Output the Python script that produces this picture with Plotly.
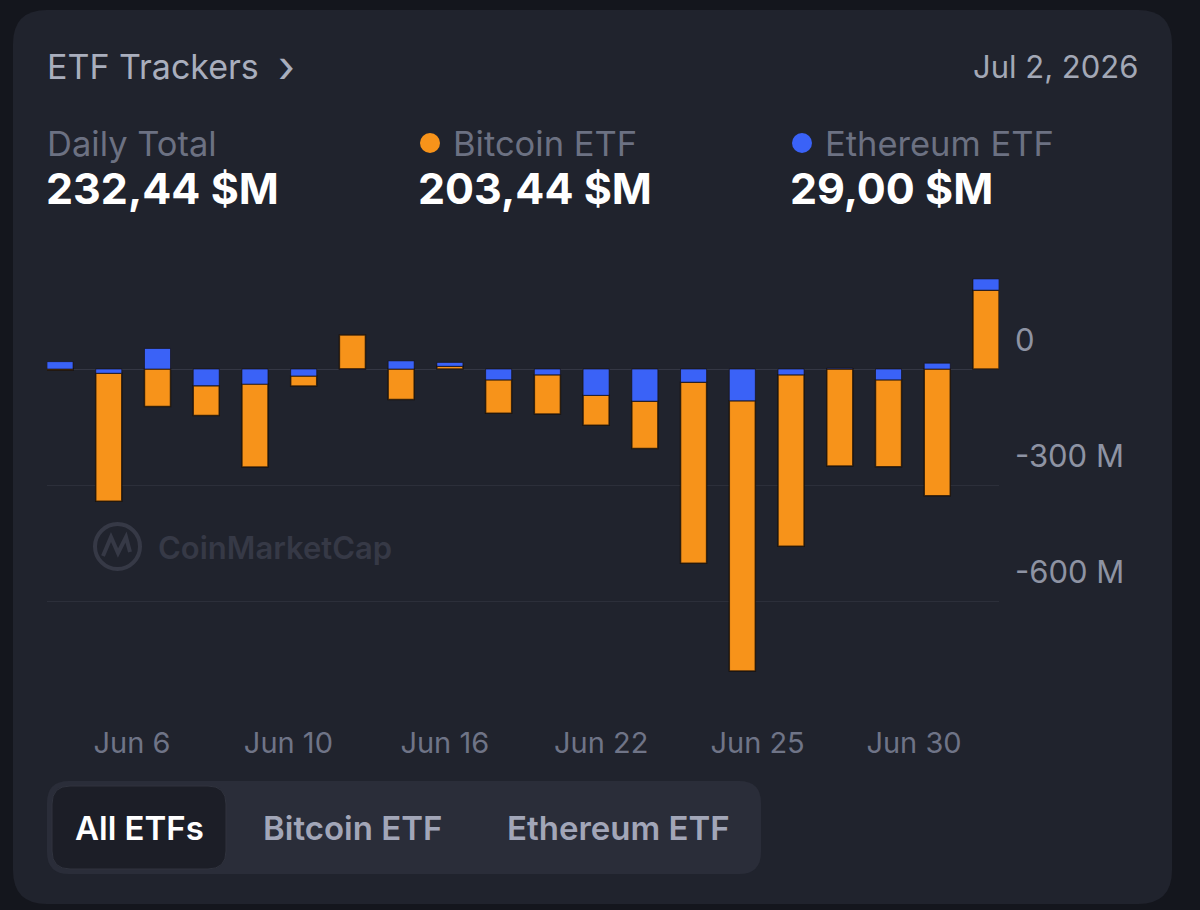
import plotly.graph_objects as go

# ---------------- data ($M) ----------------
btc_flows = [-3, -330, -97, -77, -214, -26, 88, -79, 7, -86,
             -101, -77, -122, -467, -697, -442, -250, -224, -327, 203.44]
eth_flows = [19, -11, 53, -43, -39, -18, -1, 21, 10, -28,
             -15, -68, -83, -34, -82, -15, 2, -28, 15, 29.00]
x_tick_labels = ["Jun 6", "Jun 10", "Jun 16", "Jun 22", "Jun 25", "Jun 30"]
y_tick_values = [0, -300, -600]
y_tick_labels = ["0", "-300 M", "-600 M"]
header_date = "Jul 2, 2026"
daily_total = "232,44 $M"
btc_total = "203,44 $M"
eth_total = "29,00 $M"
tabs = ["All ETFs", "Bitcoin ETF", "Ethereum ETF"]

# ---------------- style ----------------
OUTER_BG = "#14161d"
CARD_BG = "#20232d"
ORANGE = "#f7931a"
BLUE = "#3a62f7"
FONT = "Inter"

W, H = 1200, 910
PL, PR, PT, PB = 47, 999, 255, 690


def px(x):
    return (x - PL) / (PR - PL)


def py(y):
    return (PB - y) / (PB - PT)


def rounded_rect(x0, y0, x1, y1, r):
    """Rounded rectangle path in paper coordinates (pixel inputs)."""
    pts = [
        f"M {px(x0 + r)} {py(y0)}",
        f"L {px(x1 - r)} {py(y0)}",
        f"Q {px(x1)} {py(y0)} {px(x1)} {py(y0 + r)}",
        f"L {px(x1)} {py(y1 - r)}",
        f"Q {px(x1)} {py(y1)} {px(x1 - r)} {py(y1)}",
        f"L {px(x0 + r)} {py(y1)}",
        f"Q {px(x0)} {py(y1)} {px(x0)} {py(y1 - r)}",
        f"L {px(x0)} {py(y0 + r)}",
        f"Q {px(x0)} {py(y0)} {px(x0 + r)} {py(y0)}",
        "Z",
    ]
    return " ".join(pts)


n = len(btc_flows)
xs = list(range(n))
bar_w = 0.534

# stacking: same-sign segments stack (ETH next to zero for outflows, BTC next to zero for inflows)
btc_base, eth_base = [], []
for b, e in zip(btc_flows, eth_flows):
    if b < 0 and e < 0:
        eth_base.append(0)
        btc_base.append(e)
    elif b > 0 and e > 0:
        btc_base.append(0)
        eth_base.append(b)
    else:
        btc_base.append(0)
        eth_base.append(0)

fig = go.Figure()
fig.add_trace(go.Bar(
    x=xs, y=btc_flows, base=btc_base, width=bar_w, name="Bitcoin ETF",
    marker=dict(color=ORANGE, line=dict(color="rgba(20,12,6,0.75)", width=1.5)),
))
fig.add_trace(go.Bar(
    x=xs, y=eth_flows, base=eth_base, width=bar_w, name="Ethereum ETF",
    marker=dict(color=BLUE, line=dict(color="rgba(20,12,6,0.6)", width=1.0)),
))

x0r, x1r = -bar_w / 2, (n - 1) + bar_w / 2
span = x1r - x0r
pad = 0.14
tick_pos = [x0r + pad + (k + 0.5) * (span - 2 * pad) / len(x_tick_labels)
            for k in range(len(x_tick_labels))]

y_top = 2.58 * (369 - PT)
y_bot = y_top - (PB - PT) * 2.58

fig.update_layout(
    width=W, height=H,
    margin=dict(l=PL, r=W - PR, t=PT, b=H - PB),
    paper_bgcolor=OUTER_BG,
    plot_bgcolor="rgba(0,0,0,0)",
    barmode="overlay",
    showlegend=False,
    font=dict(family=FONT, color="#8e93a3"),
    xaxis=dict(
        range=[x0r, x1r], tickmode="array", tickvals=tick_pos, ticktext=x_tick_labels,
        showgrid=False, zeroline=False, showline=False, ticks="",
        tickfont=dict(size=29, color="#6f7487", family=FONT),
        ticklabelstandoff=33, fixedrange=True,
    ),
    yaxis=dict(
        range=[y_bot, y_top], side="right", tickmode="array",
        tickvals=y_tick_values, ticktext=y_tick_labels,
        showgrid=True, gridcolor="#2c2f3a", gridwidth=1,
        zeroline=True, zerolinecolor="#343744", zerolinewidth=1,
        showline=False, ticks="",
        tickfont=dict(size=31, color="#8e93a3", family=FONT),
        ticklabelstandoff=15, ticklabelshift=-29, fixedrange=True,
    ),
)

shapes = []
# card
shapes.append(dict(type="path", xref="paper", yref="paper", layer="below",
                   path=rounded_rect(13, 10, 1172, 904, 34),
                   fillcolor=CARD_BG, line=dict(width=0)))
# segmented control
shapes.append(dict(type="path", xref="paper", yref="paper", layer="below",
                   path=rounded_rect(47, 781, 761, 874, 22),
                   fillcolor="#2a2d39", line=dict(width=0)))
shapes.append(dict(type="path", xref="paper", yref="paper", layer="below",
                   path=rounded_rect(52, 786, 226, 869, 18),
                   fillcolor="#1c1e27", line=dict(color="#30333e", width=1)))
# legend dots
for cx, col in [(430, ORANGE), (802, BLUE)]:
    shapes.append(dict(type="circle", xref="paper", yref="paper",
                       x0=px(cx - 10), x1=px(cx + 10), y0=py(153), y1=py(133),
                       fillcolor=col, line=dict(width=0)))
# watermark logo
wm = "#363946"
shapes.append(dict(type="circle", xref="paper", yref="paper", layer="below",
                   x0=px(95), x1=px(140), y0=py(569), y1=py(524),
                   line=dict(color=wm, width=4), fillcolor="rgba(0,0,0,0)"))
shapes.append(dict(type="path", xref="paper", yref="paper", layer="below",
                   path=(f"M {px(103)} {py(556)} L {px(111)} {py(537)} L {px(118)} {py(553)} "
                         f"L {px(126)} {py(537)} L {px(130)} {py(552)}"),
                   line=dict(color=wm, width=4)))
fig.update_layout(shapes=shapes)

ann = []


def text(x, y, s, size, color, anchor="left", weight=400):
    ann.append(dict(x=px(x), y=py(y), xref="paper", yref="paper", text=s,
                    showarrow=False, xanchor=anchor, yanchor="middle",
                    font=dict(family=FONT, size=size, color=color, weight=weight)))


text(45, 67, "ETF Trackers", 34, "#a9aebd")
text(276, 66, "›", 44, "#a9aebd")
text(1140, 67, header_date, 31, "#a3a8b6", anchor="right")
text(45, 143, "Daily Total", 34.5, "#6c7182")
text(44, 188, daily_total, 43, "#ffffff", weight=700)
text(451, 143, "Bitcoin ETF", 34.5, "#6c7182")
text(416, 188, btc_total, 43, "#ffffff", weight=700)
text(823, 143, "Ethereum ETF", 34.5, "#6c7182")
text(788, 188, eth_total, 43, "#ffffff", weight=700)
text(156, 547, "CoinMarketCap", 31, wm, weight=600)
text(139, 828, tabs[0], 33, "#ffffff", anchor="center", weight=600)
text(352, 828, tabs[1], 33, "#a2a6b8", anchor="center", weight=600)
text(618, 828, tabs[2], 33, "#a2a6b8", anchor="center", weight=600)
fig.update_layout(annotations=ann)

fig.write_html("out.html")
